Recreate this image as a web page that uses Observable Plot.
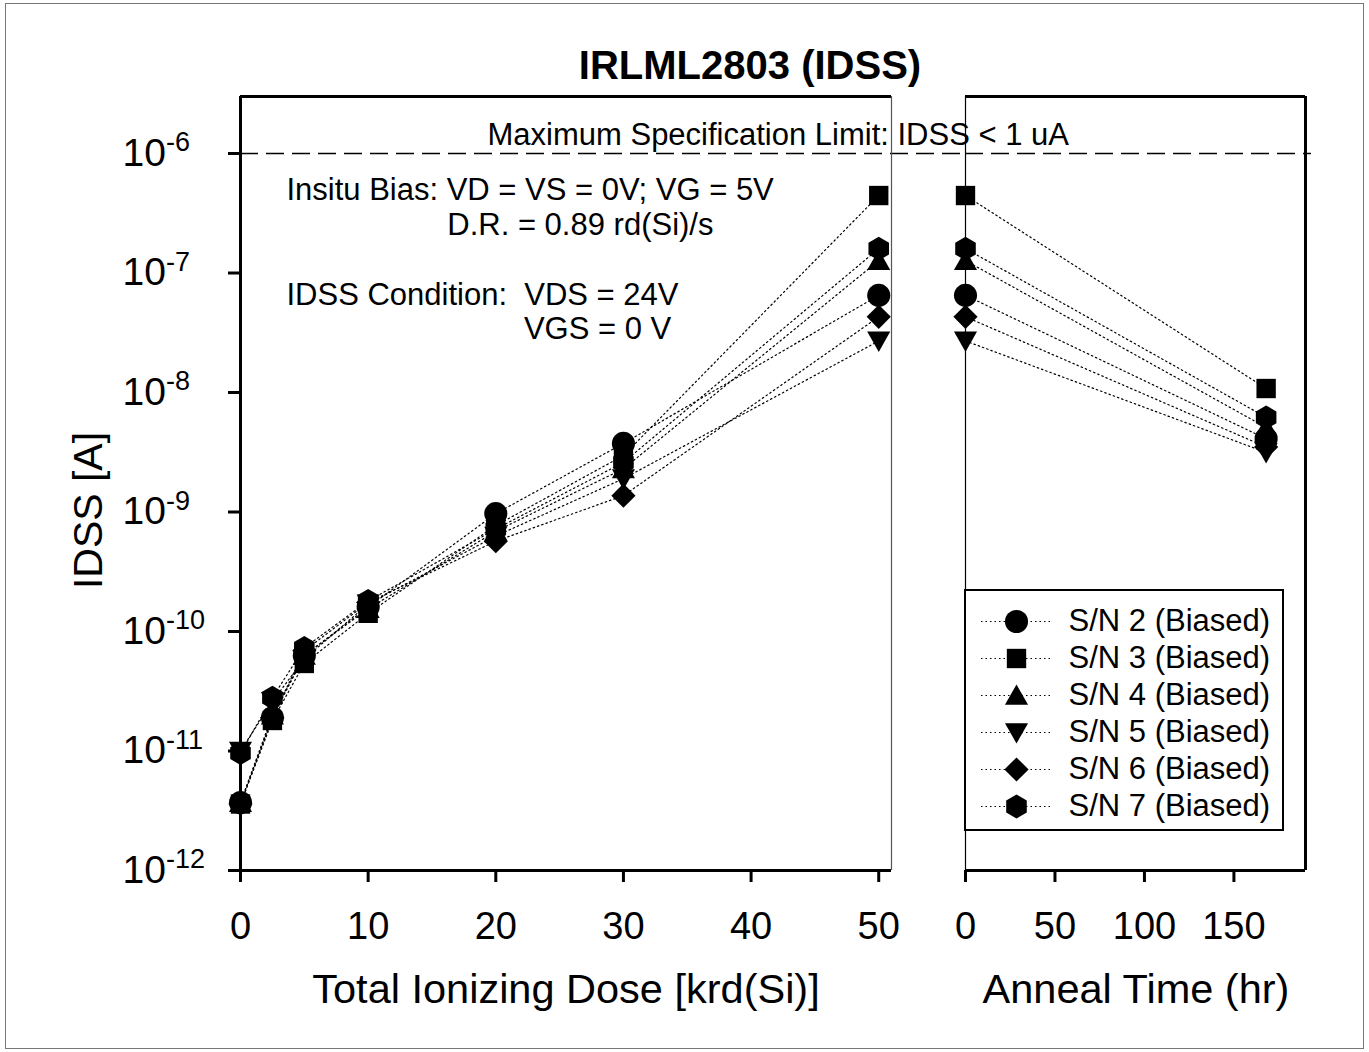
<!DOCTYPE html>
<html>
<head>
<meta charset="utf-8">
<script src="https://cdn.jsdelivr.net/npm/d3@7"></script>
<script src="https://cdn.jsdelivr.net/npm/@observablehq/plot@0.6"></script>
<style>
  body { margin: 0; background: white; }
  #wrap { position: relative; width: 1369px; height: 1052px; background: white; font-family: "Liberation Sans", Arial, sans-serif; overflow: hidden; }
  .abs { position: absolute; }
  .ttl { position: absolute; color: black; white-space: nowrap; }
</style>
</head>
<body>
<div id="wrap">
  <div class="abs" style="left:5px; top:3px; width:1357px; height:1044px; border:1.5px solid #777;"></div>
  <div class="ttl" style="left:450px; width:600px; top:43px; text-align:center; font-size:40px; font-weight:bold;">IRLML2803 (IDSS)</div>
  <div class="ttl" style="left:266px; width:600px; top:965px; text-align:center; font-size:41.5px;">Total Ionizing Dose [krd(Si)]</div>
  <div class="ttl" style="left:886px; width:500px; top:965px; text-align:center; font-size:41.5px;">Anneal Time (hr)</div>
  <div class="ttl" style="left:-12px; width:200px; top:487px; text-align:center; font-size:41px; transform:rotate(-90deg);">IDSS [A]</div>
  <div id="left" class="abs" style="left:0; top:0;"></div>
  <div id="right" class="abs" style="left:900px; top:0;"></div>
  <div id="legend" class="abs" style="left:964px; top:589px;"></div>
</div>
<script>
// ---------- data ----------
const series = ["S/N 2 (Biased)", "S/N 3 (Biased)", "S/N 4 (Biased)", "S/N 5 (Biased)", "S/N 6 (Biased)", "S/N 7 (Biased)"];
const doses = [0, 2.5, 5, 10, 20, 30, 50];           // krd(Si)
const sn2 = [3.7e-12, 1.9e-11, 6.3e-11, 1.6e-10, 9.7e-10, 3.75e-9, 6.5e-8];
const sn3 = [3.6e-12, 1.8e-11, 5.4e-11, 1.42e-10, 7.7e-10, 2.97e-9, 4.45e-7];
const sn4 = [3.7e-12, 2.0e-11, 6.3e-11, 1.55e-10, 6.9e-10, 2.3e-9, 1.27e-7];
const sn5 = [1.0e-11, 2.6e-11, 5.9e-11, 1.7e-10, 6.3e-10, 1.9e-9, 2.7e-8];
const sn6 = [3.6e-12, 1.9e-11, 6.9e-11, 1.75e-10, 5.7e-10, 1.37e-9, 4.3e-8];
const sn7 = [9.6e-12, 2.8e-11, 7.3e-11, 1.8e-10, 7.2e-10, 2.6e-9, 1.6e-7];
const annealHours = [0, 168];                          // hr
const sn2Anneal = [6.5e-8, 4.1e-9];
const sn3Anneal = [4.45e-7, 1.08e-8];
const sn4Anneal = [1.27e-7, 5.1e-9];
const sn5Anneal = [2.7e-8, 3.15e-9];
const sn6Anneal = [4.3e-8, 3.5e-9];
const sn7Anneal = [1.6e-7, 6.2e-9];
const doseTicks = [0, 10, 20, 30, 40, 50];
const annealTicks = [0, 50, 100, 150];
const yTicks = [1e-12, 1e-11, 1e-10, 1e-9, 1e-8, 1e-7, 1e-6];
const specLimit = 1e-6;
const annotations = [
  {text: "Maximum Specification Limit: IDSS < 1 uA", x: 19.35, y: 1.42e-6},
  {text: "Insitu Bias: VD = VS = 0V; VG = 5V", x: 3.6, y: 4.9e-7},
  {text: "D.R. = 0.89 rd(Si)/s", x: 16.2, y: 2.5e-7},
  {text: "IDSS Condition:  VDS = 24V", x: 3.6, y: 6.5e-8},
  {text: "VGS = 0 V", x: 22.2, y: 3.4e-8}
];

const doseSets = [sn2, sn3, sn4, sn5, sn6, sn7];
const annealSets = [sn2Anneal, sn3Anneal, sn4Anneal, sn5Anneal, sn6Anneal, sn7Anneal];
const doseData = series.flatMap((s, k) => doses.map((d, i) => ({series: s, x: d, value: doseSets[k][i]})));
const annealData = series.flatMap((s, k) => annealHours.map((h, i) => ({series: s, x: h, value: annealSets[k][i]})));

// ---------- symbols ----------
const unit = size => Math.sqrt(size / Math.PI);
const symCircle = {draw(c, size) { const r = unit(size) * 1.05; c.moveTo(r, 0); c.arc(0, 0, r, 0, 2 * Math.PI); c.closePath(); }};
const symSquare = {draw(c, size) { const h = unit(size) * 0.88; c.moveTo(-h, -h); c.lineTo(h, -h); c.lineTo(h, h); c.lineTo(-h, h); c.closePath(); }};
const symTriUp = {draw(c, size) { const s = unit(size); c.moveTo(0, -1.0 * s); c.lineTo(1.05 * s, 0.85 * s); c.lineTo(-1.05 * s, 0.85 * s); c.closePath(); }};
const symTriDown = {draw(c, size) { const s = unit(size); c.moveTo(0, 1.0 * s); c.lineTo(1.05 * s, -0.85 * s); c.lineTo(-1.05 * s, -0.85 * s); c.closePath(); }};
const symDiamond = {draw(c, size) { const s = unit(size) * 1.1; c.moveTo(0, -s); c.lineTo(s, 0); c.lineTo(0, s); c.lineTo(-s, 0); c.closePath(); }};
const symHexagon = {draw(c, size) { const s = unit(size) * 1.08; for (let i = 0; i < 6; i++) { const a = -Math.PI / 2 + i * Math.PI / 3; const px = s * Math.cos(a), py = s * Math.sin(a); if (i === 0) c.moveTo(px, py); else c.lineTo(px, py); } c.closePath(); }};
const symbolScale = {domain: series, range: [symCircle, symSquare, symTriUp, symTriDown, symDiamond, symHexagon]};

const baseStyle = {background: "transparent", overflow: "visible", fontFamily: "Liberation Sans, Arial, sans-serif", color: "black"};
const yScale = {type: "log", domain: [1e-12, 3e-6]};
const dotted = {stroke: "black", strokeWidth: 1.2, strokeDasharray: "1.5,3"};

function supTicks(svg) {
  const g = d3.select(svg).select('g[aria-label="y-axis tick label"]');
  g.attr("text-anchor", "start");
  g.attr("transform", (g.attr("transform") || "") + " translate(-88,0)");
  g.selectAll("text").each(function () {
    const m = this.textContent.match(/^10\^(-?\d+)$/);
    if (!m) return;
    const sel = d3.select(this);
    sel.attr("text-anchor", "start");
    sel.text(null);
    sel.append("tspan").text("10");
    sel.append("tspan").attr("font-size", 27).attr("dy", "-0.55em").text(m[1]);
  });
  d3.select(svg).selectAll("text").style("white-space", "pre");
}

// ---------- left panel: dose ----------
const left = Plot.plot({
  width: 905, height: 1052,
  marginLeft: 240, marginRight: 14, marginTop: 96, marginBottom: 182,
  style: baseStyle,
  x: {domain: [0, 51]},
  y: yScale,
  symbol: symbolScale,
  marks: [
    Plot.ruleY([specLimit], {stroke: "black", strokeWidth: 1.5, strokeDasharray: "18,8", insetRight: -74}),
    Plot.line(doseData, {x: "x", y: "value", z: "series", ...dotted}),
    Plot.dot(doseData, {x: "x", y: "value", symbol: "series", r: 11, fill: "black", stroke: "none"}),
    Plot.ruleX([0], {stroke: "black", strokeWidth: 3}),
    Plot.ruleY([1e-12], {stroke: "black", strokeWidth: 3}),
    Plot.ruleY([3e-6], {stroke: "black", strokeWidth: 3}),
    Plot.ruleX([51], {stroke: "#555", strokeWidth: 1.2}),
    Plot.axisX({ticks: doseTicks, tickSize: 12, tickPadding: 30, strokeWidth: 3, fontSize: 38, label: null, tickFormat: d => String(d)}),
    Plot.axisY({ticks: yTicks, tickSize: 12, tickPadding: 18, strokeWidth: 3, fontSize: 39, label: null,
      tickFormat: d => `10^${Math.round(Math.log10(d))}`}),
    Plot.text(annotations, {x: "x", y: "y", text: "text", textAnchor: "start", fontSize: 31, fill: "black"})
  ]
});
supTicks(left);
document.getElementById("left").appendChild(left);

// ---------- right panel: anneal ----------
const right = Plot.plot({
  width: 469, height: 1052,
  marginLeft: 65, marginRight: 64, marginTop: 96, marginBottom: 182,
  style: baseStyle,
  x: {domain: [0, 190]},
  y: {...yScale, axis: null},
  symbol: symbolScale,
  marks: [
    Plot.ruleY([specLimit], {stroke: "black", strokeWidth: 1.5, strokeDasharray: "18,8", insetRight: -6}),
    Plot.line(annealData, {x: "x", y: "value", z: "series", ...dotted}),
    Plot.ruleX([0], {stroke: "black", strokeWidth: 1.2}),
    Plot.ruleX([190], {stroke: "black", strokeWidth: 3}),
    Plot.ruleY([1e-12], {stroke: "black", strokeWidth: 3}),
    Plot.ruleY([3e-6], {stroke: "black", strokeWidth: 3}),
    Plot.dot(annealData, {x: "x", y: "value", symbol: "series", r: 11, fill: "black", stroke: "none"}),
    Plot.axisX({ticks: annealTicks, tickSize: 12, tickPadding: 30, strokeWidth: 3, fontSize: 38, label: null, tickFormat: d => String(d)})
  ]
});
document.getElementById("right").appendChild(right);

// ---------- legend ----------
const legend = Plot.plot({
  width: 316, height: 238,
  marginLeft: 0, marginRight: 0, marginTop: 30, marginBottom: 23,
  style: {...baseStyle, background: "white", border: "2px solid black"},
  y: {type: "point", domain: series, padding: 0, axis: null},
  symbol: symbolScale,
  marks: [
    Plot.ruleY(series, {y: d => d, insetLeft: 15, insetRight: 231, ...dotted}),
    Plot.dot(series, {y: d => d, frameAnchor: "left", dx: 50, symbol: d => d, r: 11, fill: "black", stroke: "none"}),
    Plot.text(series, {y: d => d, frameAnchor: "left", dx: 102, text: d => d, textAnchor: "start", fontSize: 31, fill: "black"})
  ]
});
document.getElementById("legend").appendChild(legend);
</script>
</body>
</html>
